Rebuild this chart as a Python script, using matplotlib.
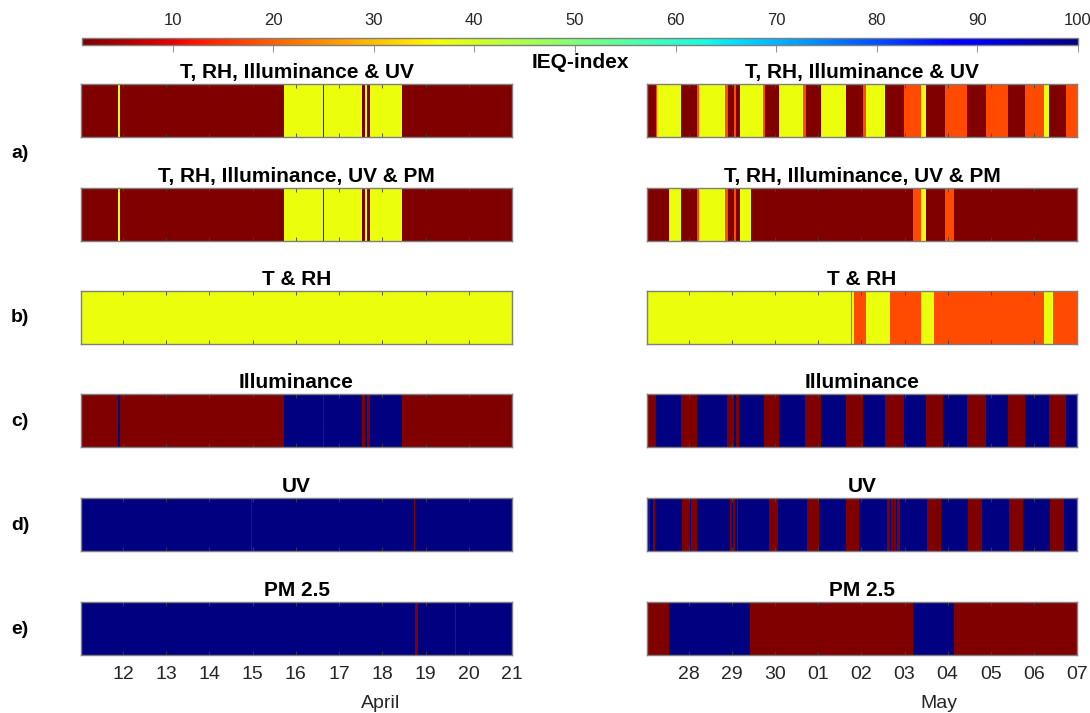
import numpy as np
import matplotlib
matplotlib.use("Agg")
import matplotlib.pyplot as plt

plt.rcParams['font.family'] = ['Liberation Sans', 'DejaVu Sans']

# ---------------- data ----------------
# time in days: April d -> d, May d -> 30 + d
# IEQ values: 1 = very poor (dark red), 18 = orange, 37 = yellow, 100 = good (dark blue)
titles = ["T, RH, Illuminance & UV", "T, RH, Illuminance, UV & PM", "T & RH",
          "Illuminance", "UV", "PM 2.5"]
row_labels = ["a)", "b)", "c)", "d)", "e)"]

apr_xlim = [11.03, 21.0]
may_xlim = [27.025, 37.0]
apr_ticks = [12, 13, 14, 15, 16, 17, 18, 19, 20, 21]
apr_ticklabels = ["12", "13", "14", "15", "16", "17", "18", "19", "20", "21"]
may_ticks = [28, 29, 30, 31, 32, 33, 34, 35, 36, 37]
may_ticklabels = ["28", "29", "30", "01", "02", "03", "04", "05", "06", "07"]

# ---- April period ----
apr_a1_edges = [11.03, 11.891, 11.937, 15.727, 16.623, 16.66, 17.525, 17.609, 17.655, 17.718, 18.451, 21.0]
apr_a1_vals = [1, 37, 1, 37, 1, 37, 1, 37, 1, 37, 1]

apr_a2_edges = [11.03, 11.891, 11.937, 15.727, 16.623, 16.66, 17.525, 17.609, 17.655, 17.718, 18.451, 21.0]
apr_a2_vals = [1, 37, 1, 37, 1, 37, 1, 37, 1, 37, 1]

apr_b_edges = [11.03, 21.0]
apr_b_vals = [37]

apr_c_edges = [11.03, 11.891, 11.937, 15.727, 16.623, 16.66, 17.525, 17.609, 17.655, 17.718, 18.451, 21.0]
apr_c_vals = [1, 100, 1, 100, 1, 100, 1, 100, 1, 100, 1]

apr_d_edges = [11.03, 14.972, 14.986, 18.733, 18.753, 21.0]
apr_d_vals = [100, 1, 100, 1, 100]

apr_e_edges = [11.03, 18.759, 18.822, 19.516, 19.528, 19.685, 19.712, 21.0]
apr_e_vals = [100, 1, 100, 1, 100, 1, 100]

# ---- April/May period ----
may_a1_edges = [27.025, 27.23, 27.26, 27.814, 28.193, 28.239, 28.835, 28.912, 29.044, 29.084,
                29.183, 29.724, 29.77, 30.095, 30.652, 30.708, 31.063, 31.636, 32.026, 32.107,
                32.536, 32.988, 33.39, 33.492, 33.928, 34.443, 34.884, 35.394, 35.796, 36.237,
                36.353, 36.74, 37.0]
may_a1_vals = [1, 18, 37, 1, 18, 37, 18, 1, 18, 1,
               37, 18, 1, 37, 18, 1, 37, 1, 18, 37,
               1, 18, 37, 1, 18, 1, 18, 1, 18, 37,
               1, 18]

may_a2_edges = [27.025, 27.525, 27.814, 28.193, 28.239, 28.835, 28.912, 29.044, 29.084, 29.183,
                29.432, 33.204, 33.383, 33.492, 33.928, 34.155, 37.0]
may_a2_vals = [1, 37, 1, 18, 37, 18, 1, 18, 1, 37,
               1, 18, 37, 1, 18, 1]

may_b_edges = [27.025, 31.759, 31.789, 31.821, 32.1, 32.671, 33.39, 33.684, 36.237, 36.452, 37.0]
may_b_vals = [37, 18, 37, 18, 37, 18, 37, 18, 37, 18]

may_c_edges = [27.025, 27.23, 27.814, 28.193, 28.87, 29.044, 29.084, 29.17, 29.74, 30.095,
               30.69, 31.063, 31.636, 32.03, 32.548, 32.988, 33.492, 33.9, 34.443, 34.884,
               35.394, 35.796, 36.353, 36.74, 37.0]
may_c_vals = [1, 100, 1, 100, 1, 100, 1, 100, 1, 100,
              1, 100, 1, 100, 1, 100, 1, 100, 1, 100,
              1, 100, 1, 100]

may_d_edges = [27.025, 27.073, 27.085, 27.112, 27.124, 27.166, 27.178, 27.198, 27.21, 27.845,
               28.03, 28.045, 28.11, 28.125, 28.193, 28.951, 28.99, 29.028, 29.067, 29.107,
               29.144, 29.856, 30.072, 30.68, 30.695, 30.731, 31.023, 31.643, 31.951, 32.587,
               32.664, 32.68, 32.726, 32.757, 32.804, 32.834, 32.896, 33.529, 33.761, 33.785,
               33.847, 34.48, 34.791, 35.425, 35.756, 36.376, 36.647, 36.66, 36.708, 37.0]
may_d_vals = [100, 1, 100, 1, 100, 1, 100, 1, 100, 1,
              100, 1, 100, 1, 100, 1, 100, 1, 100, 1,
              100, 1, 100, 1, 100, 1, 100, 1, 100, 1,
              100, 1, 100, 1, 100, 1, 100, 1, 100, 1,
              100, 1, 100, 1, 100, 1, 100, 1, 100]

may_e_edges = [27.025, 27.525, 29.423, 33.204, 34.155, 37.0]
may_e_vals = [1, 100, 1, 100, 1]

apr_panels = [(apr_a1_edges, apr_a1_vals), (apr_a2_edges, apr_a2_vals), (apr_b_edges, apr_b_vals),
              (apr_c_edges, apr_c_vals), (apr_d_edges, apr_d_vals), (apr_e_edges, apr_e_vals)]
may_panels = [(may_a1_edges, may_a1_vals), (may_a2_edges, may_a2_vals), (may_b_edges, may_b_vals),
              (may_c_edges, may_c_vals), (may_d_edges, may_d_vals), (may_e_edges, may_e_vals)]

cbar_ticks = [10, 20, 30, 40, 50, 60, 70, 80, 90, 100]
vmin, vmax = 1, 100

# ---------------- figure ----------------
W, H = 1090, 713
fig = plt.figure(figsize=(W / 100, H / 100), dpi=100)
cmap = plt.get_cmap('jet_r')

def fx(px):
    return px / W

def fy(px):
    return 1 - px / H

row_top = [84, 188, 291, 394, 498, 602]
row_h = 53
col_left = [81, 647]
col_w = [431, 430]

spine_col = '#7f7f7f'
mesh = None
for col, (panels, xlim, ticks, tlabels) in enumerate(
        [(apr_panels, apr_xlim, apr_ticks, apr_ticklabels),
         (may_panels, may_xlim, may_ticks, may_ticklabels)]):
    for r, (edges, vals) in enumerate(panels):
        ax = fig.add_axes([fx(col_left[col]), fy(row_top[r] + row_h), col_w[col] / W, row_h / H])
        mesh = ax.pcolormesh(np.array(edges), np.array([0.0, 1.0]), np.array([vals], dtype=float),
                             cmap=cmap, vmin=vmin, vmax=vmax, shading='flat')
        ax.set_xlim(xlim)
        ax.set_ylim(0, 1)
        ax.set_yticks([])
        ax.set_xticks(ticks)
        ax.tick_params(axis='x', direction='in', length=3, width=0.6, color='#404040',
                       top=True, bottom=True, labelsize=14, labelcolor='#262626', pad=8)
        if r < 5:
            ax.set_xticklabels([])
        else:
            ax.set_xticklabels(tlabels)
        for s in ax.spines.values():
            s.set_color(spine_col)
            s.set_linewidth(1.0)
        ax.set_title(titles[r], fontsize=15, fontweight='bold', pad=4)

# row labels
row_label_y = [153, 318, 421, 525, 629]
for lab, yy in zip(row_labels, row_label_y):
    fig.text(fx(20), fy(yy), lab, fontsize=14, fontweight='bold', ha='center', va='center')

# month labels
fig.text(fx(381), fy(703), "April", fontsize=14, color='#262626', ha='center', va='center')
fig.text(fx(939), fy(703), "May", fontsize=14, color='#262626', ha='center', va='center')

# colorbar
cax = fig.add_axes([fx(82), fy(45), (1078 - 82) / W, 7 / H])
cb = fig.colorbar(mesh, cax=cax, orientation='horizontal', ticks=cbar_ticks)
cax.xaxis.set_ticks_position('bottom')
cax.tick_params(axis='x', direction='out', length=5, width=0.6, color='#7f7f7f',
                bottom=True, top=False, labelbottom=False, labeltop=True,
                labelsize=12, labelcolor='#262626', pad=2)
cb.outline.set_edgecolor(spine_col)
cb.outline.set_linewidth(1.0)
fig.text(fx(580), fy(63), "IEQ-index", fontsize=15, fontweight='bold', ha='center', va='center')

fig.savefig("out.png", dpi=100)
